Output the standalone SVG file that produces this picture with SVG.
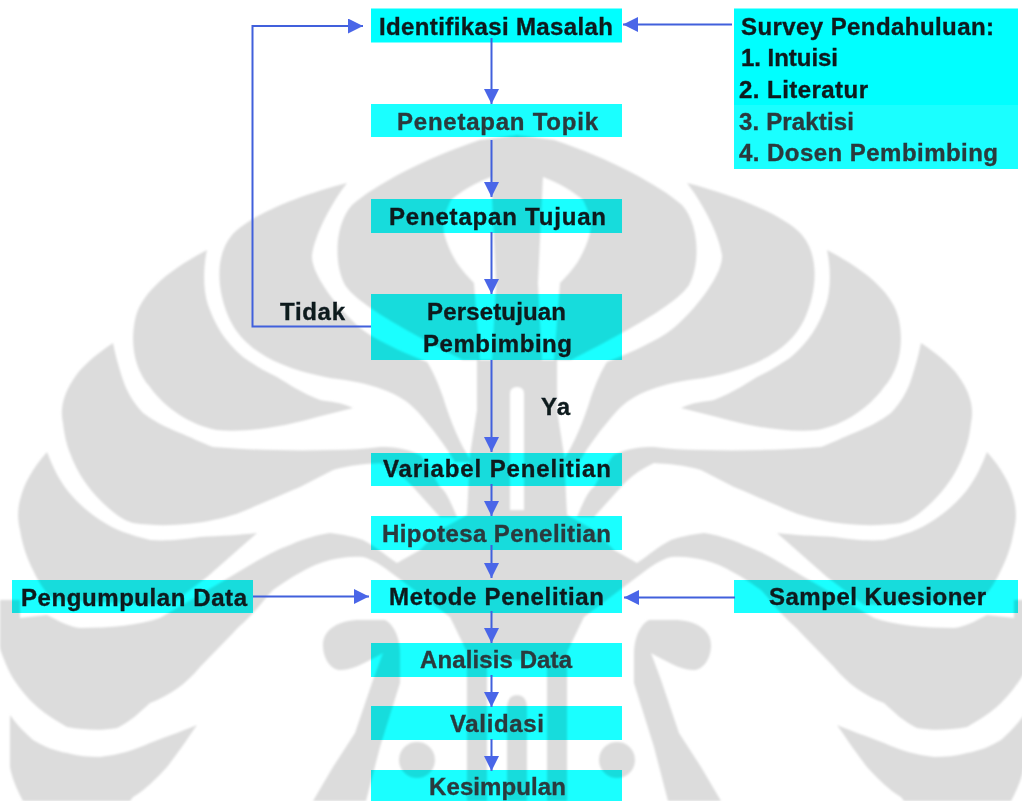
<svg xmlns="http://www.w3.org/2000/svg" xmlns:xlink="http://www.w3.org/1999/xlink" width="1022" height="801" viewBox="0 0 1022 801">
<style>
.box{fill:#1affff;mix-blend-mode:multiply}
.pure{fill:#00ffff}
.t{font-family:"Liberation Sans",Arial,sans-serif;font-weight:bold;font-size:24px;fill:#0c1a1e;stroke:#0c1a1e;stroke-width:0.35;filter:url(#soft)}
.g{fill:#2a3a3e;stroke:#2a3a3e}
.c{fill:none;stroke:#4160dc;stroke-width:2;marker-end:url(#arrow)}
.wm{fill:#dcdcdc}
.wh{fill:#fff}
</style>
<defs>
<filter id="soft" x="-5%" y="-20%" width="110%" height="140%"><feGaussianBlur stdDeviation="0.4"/></filter>
<filter id="soft2" x="-2%" y="-2%" width="104%" height="104%"><feGaussianBlur stdDeviation="0.8"/></filter>
<marker id="arrow" viewBox="0 0 15 15" refX="15" refY="7.5" markerWidth="15" markerHeight="15" markerUnits="userSpaceOnUse" orient="auto"><path d="M0,0L15,7.5L0,15Z" fill="#4a66e8"/></marker>
<g id="half-gray">
<path d="M518,135L480,140C425,158 375,185 352,205C334,225 334,265 345,285C355,300 385,320 463,360L477,360L477,410L470,455L467,515L440,530L420,550L397,563L397,577L450,617L467,652L467,801L518,801Z"/>
<path d="M347,183C300,195 250,215 232,235C215,255 216,290 230,320C242,345 270,367 330,378C372,383 400,392 418,412C432,428 445,445 455,462L472,462C460,445 450,420 443,397C437,380 432,370 427,362C410,355 385,345 367,333C345,318 310,275 312,255C315,235 330,205 347,183Z"/>
<path d="M207,250C165,272 140,295 135,320C130,345 135,370 150,387C165,408 190,425 217,430C250,433 290,425 317,417L353,408C340,402 330,402 320,400C300,392 290,385 277,377C262,370 250,362 243,357C225,342 215,325 208,305C203,290 203,268 207,250Z"/>
<path d="M113,343C95,355 80,368 73,380C63,395 60,410 63,423C65,440 68,448 70,453C78,475 90,490 100,500C112,512 122,520 133,523C160,527 190,525 213,520C230,517 245,511 253,507C270,500 285,493 300,487L333,470C350,465 365,464 380,463C395,470 405,478 413,487L440,517L457,517C450,500 445,490 440,487C430,470 425,460 420,455C405,448 395,447 380,447C365,449 350,450 333,450C290,451 250,450 213,447C200,442 190,437 180,433C165,427 152,420 143,413C133,402 127,392 123,380C118,365 115,353 113,343Z"/>
<path d="M47,452C33,468 24,483 20,500C17,512 18,522 20,530C23,548 28,560 33,570C40,585 47,595 55,600L170,605L207,577L257,533C240,535 220,536 200,537C180,540 165,541 150,540C130,535 115,530 100,520C85,510 75,500 67,490C58,478 52,465 47,452Z"/>
<path d="M0,600L20,600L20,618L47,615C60,622 70,627 80,628C110,628 140,625 160,618L230,577C250,565 270,552 290,545C305,538 318,535 330,533C345,535 355,537 363,540C375,546 385,555 397,563L397,577C385,568 375,560 363,557C350,556 340,558 330,560C310,565 290,578 273,590C265,598 260,606 253,613C245,622 240,625 233,633L200,667C185,685 170,695 150,703C140,712 130,722 117,728C100,731 85,730 67,727C55,720 42,712 33,703C22,692 15,682 10,673C4,660 0,650 0,647Z"/>
<path d="M10,715C17,725 25,733 33,740C45,747 55,751 67,753C78,756 90,757 100,757C118,755 135,750 150,743C168,736 183,731 197,725C188,738 178,753 167,767C155,780 145,790 133,797L130,801L23,801C17,790 12,778 10,767Z"/>
<path d="M360,620C338,620 323,630 323,645C323,660 332,670 340,670C352,671 370,660 383,653L373,680L355,733L333,767L313,801L366,801L380,747L400,683L400,653C400,640 395,625 385,620Z"/>
<circle cx="417" cy="760" r="18"/>
</g>
<g id="half-white">
<path d="M491,177C475,183 460,192 451,200C445,212 442,222 444,233C447,245 452,255 457,263C462,270 468,277 474,283L480,360L492,360L496,283Z"/>
<path d="M510,510L510,394Q510,387 517,387L518,387L518,510Z"/>
<path d="M487,660H518V695Q507,695 507,708V801H487Z"/>
</g>
</defs>
<g id="watermark" filter="url(#soft2)">
<g class="wm"><use href="#half-gray"/><use href="#half-gray" transform="matrix(-1 0 0 1 1034 0)"/></g>
<g class="wh"><use href="#half-white"/><use href="#half-white" transform="matrix(-1 0 0 1 1034 0)"/></g>
</g>
<g id="identifikasi"><rect class="box pure" x="371" y="8.5" width="251" height="34"/><text class="t" x="379" y="34.5" textLength="234">Identifikasi Masalah</text></g>
<g id="topik"><rect class="box" x="371" y="104" width="251" height="33"/><text class="t g" x="397" y="130" textLength="201">Penetapan Topik</text></g>
<g id="tujuan"><rect class="box" x="371" y="199" width="251" height="34"/><text class="t" x="389" y="225" textLength="217">Penetapan Tujuan</text></g>
<g id="persetujuan"><rect class="box" x="371" y="294" width="251" height="66"/><text class="t" x="427" y="320" textLength="139">Persetujuan</text><text class="t" x="423" y="351.5" textLength="149">Pembimbing</text></g>
<g id="variabel"><rect class="box" x="371" y="453" width="251" height="33"/><text class="t" x="383" y="477" textLength="228">Variabel Penelitian</text></g>
<g id="hipotesa"><rect class="box" x="371" y="516" width="251" height="34"/><text class="t g" x="382" y="541.5" textLength="229">Hipotesa Penelitian</text></g>
<g id="metode"><rect class="box" x="371" y="580" width="251" height="33"/><text class="t" x="389" y="605" textLength="215">Metode Penelitian</text></g>
<g id="analisis"><rect class="box" x="371" y="643" width="251" height="34"/><text class="t g" x="420" y="668" textLength="152">Analisis Data</text></g>
<g id="validasi"><rect class="box" x="371" y="706" width="251" height="34"/><text class="t g" x="450" y="732" textLength="94">Validasi</text></g>
<g id="kesimpulan"><rect class="box" x="371" y="770" width="251" height="31"/><text class="t g" x="429" y="795" textLength="137">Kesimpulan</text></g>
<g id="survey"><rect class="box pure" x="734" y="8.5" width="284" height="96.5"/><rect class="box" x="734" y="105" width="284" height="64"/>
<text class="t" x="741" y="34.5" textLength="253">Survey Pendahuluan:</text>
<text class="t" x="741" y="66" textLength="97">1. Intuisi</text>
<text class="t" x="739" y="98" textLength="129">2. Literatur</text>
<text class="t g" x="739" y="129.5" textLength="115">3. Praktisi</text>
<text class="t g" x="739" y="161" textLength="259">4. Dosen Pembimbing</text></g>
<g id="pengumpulan"><rect class="box" x="12" y="580" width="241" height="33"/><text class="t" x="21" y="605.5" textLength="226">Pengumpulan Data</text></g>
<g id="sampel"><rect class="box" x="734" y="580" width="284" height="33"/><text class="t" x="769" y="605" textLength="217">Sampel Kuesioner</text></g>
<g id="label-tidak"><text class="t" x="280" y="320" textLength="65">Tidak</text></g>
<g id="label-ya"><text class="t" x="541" y="415" textLength="29">Ya</text></g>
<g id="connectors">
<path class="c" d="M491.5,38V104"/>
<path class="c" d="M491.5,140V197"/>
<path class="c" d="M491.5,232V294"/>
<path class="c" d="M491.5,360V452"/>
<path class="c" d="M491.5,484V516"/>
<path class="c" d="M491.5,545V578"/>
<path class="c" d="M491.5,611V643"/>
<path class="c" d="M491.5,675V707"/>
<path class="c" d="M491.5,739V771"/>
<path class="c" d="M371,326.5H252.5V26H363"/>
<path class="c" d="M732,24.5H623"/>
<path class="c" d="M735,597.5H624"/>
<path class="c" d="M253,596.5H369"/>
</g>
</svg>
